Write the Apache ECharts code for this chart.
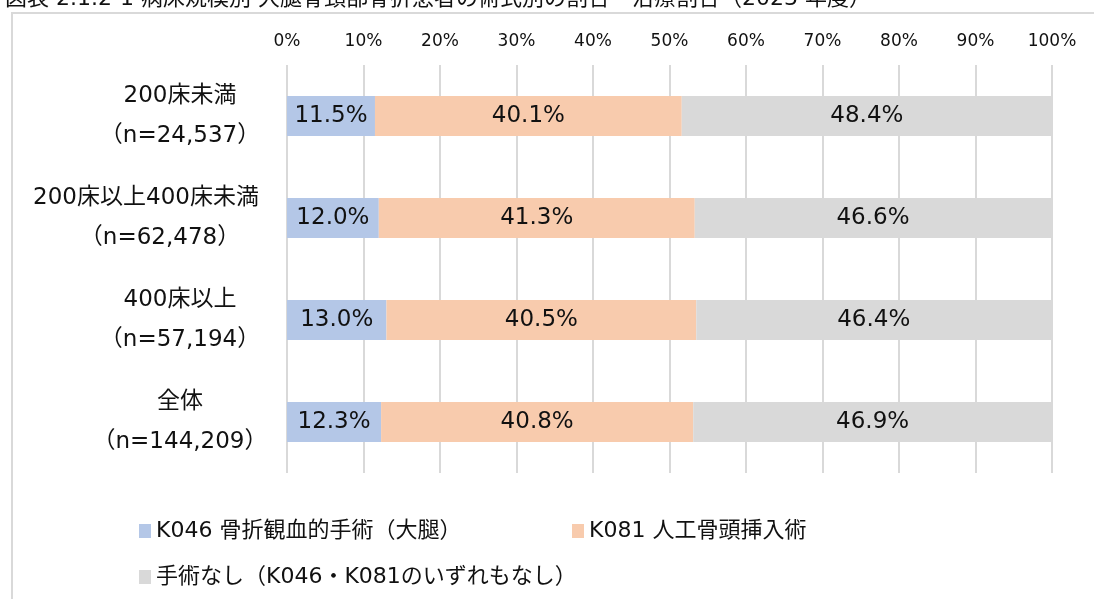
<!DOCTYPE html>
<html lang="ja">
<head>
    <meta charset="UTF-8">
    <title>病床規模別 術式割合</title>
    <style>
        html, body { margin: 0; padding: 0; background: #fff; }
    </style>
</head>
<body>
<div id="main" style="width: 1094px;height:599px;"></div>
<script src="https://cdn.jsdelivr.net/npm/echarts@6/dist/echarts.min.js"></script>
<script>
    // 病床規模（上から順に）
    var categories = ['200床未満\n（n=24,537）', '200床以上400床未満\n（n=62,478）', '400床以上\n（n=57,194）', '全体\n（n=144,209）'];
    var seriesNames = ['K046 骨折観血的手術（大腿）', 'K081 人工骨頭挿入術', '手術なし（K046・K081のいずれもなし）'];
    var k046 = [11.5, 12.0, 13.0, 12.3];
    var k081 = [40.1, 41.3, 40.5, 40.8];
    var none = [48.4, 46.6, 46.4, 46.9];
    var colors = ['#b4c7e7', '#f8cbad', '#d9d9d9'];

    var font = "'DejaVu Sans', 'Noto Sans CJK JP', sans-serif";
    var myChart = echarts.init(document.getElementById('main'));

    function makeSeries(i, values) {
        return {
            name: seriesNames[i],
            type: 'bar',
            stack: 'total',
            barWidth: 40,
            itemStyle: { color: colors[i] },
            label: {
                show: true,
                position: 'inside',
                color: '#111',
                fontSize: 23,
                fontFamily: font,
                formatter: function (p) { return p.value.toFixed(1) + '%'; }
            },
            data: values
        };
    }

    // カテゴリ名：長い行は軸から少し離して左へ寄せる（Excel の折り返し風）
    var catText = { color: '#111', fontSize: 23, fontFamily: font, lineHeight: 40 };
    function catLabel(value) {
        var lines = value.split('\n');
        if (lines[0].length > 8) {
            return '{wide|' + lines[0] + '}\n{wide2|' + lines[1] + '}';
        }
        return '{t|' + lines[0] + '}\n{t|' + lines[1] + '}';
    }

    var legendText = { color: '#111', fontSize: 22, fontFamily: font };

    var option = {
        animation: false,
        backgroundColor: '#fff',
        title: {
            text: '図表 2.1.2-1 病床規模別 大腿骨頸部骨折患者の術式別の割合・治療割合（2023 年度）',
            left: 0,
            top: -17,
            textStyle: { fontSize: 22, fontWeight: 'normal', color: '#111', fontFamily: font }
        },
        graphic: [{
            type: 'rect',
            shape: { x: 12, y: 13, width: 1200, height: 700 },
            style: { fill: 'none', stroke: '#d9d9d9', lineWidth: 2 },
            silent: true
        }],
        legend: [
            { data: [seriesNames[0]], left: 134, top: 515, icon: 'rect', itemWidth: 12, itemHeight: 14, itemStyle: { borderWidth: 0 }, textStyle: legendText },
            { data: [seriesNames[1]], left: 567, top: 515, icon: 'rect', itemWidth: 12, itemHeight: 14, itemStyle: { borderWidth: 0 }, textStyle: legendText },
            { data: [seriesNames[2]], left: 134, top: 561, icon: 'rect', itemWidth: 12, itemHeight: 14, itemStyle: { borderWidth: 0 }, textStyle: legendText }
        ],
        grid: { left: 287, right: 42, top: 65, height: 408 },
        xAxis: {
            type: 'value',
            position: 'top',
            min: 0,
            max: 100,
            interval: 10,
            axisLine: { show: false },
            axisTick: { show: false },
            axisLabel: {
                formatter: '{value}%',
                margin: 15,
                color: '#111',
                fontSize: 17,
                fontFamily: font
            },
            splitLine: { lineStyle: { color: '#d9d9d9', width: 2 } }
        },
        yAxis: {
            type: 'category',
            inverse: true,
            data: categories,
            axisLine: { show: false },
            axisTick: { show: false },
            axisLabel: {
                align: 'center',
                margin: 107,
                lineHeight: 40,
                color: '#111',
                fontSize: 23,
                fontFamily: font,
                formatter: catLabel,
                rich: {
                    t: catText,
                    wide: Object.assign({ padding: [0, 68, 0, 0] }, catText),
                    wide2: Object.assign({ padding: [0, 40, 0, 0] }, catText)
                }
            }
        },
        series: [
            makeSeries(0, k046),
            makeSeries(1, k081),
            makeSeries(2, none)
        ]
    };
    myChart.setOption(option);
</script>
</body>
</html>
